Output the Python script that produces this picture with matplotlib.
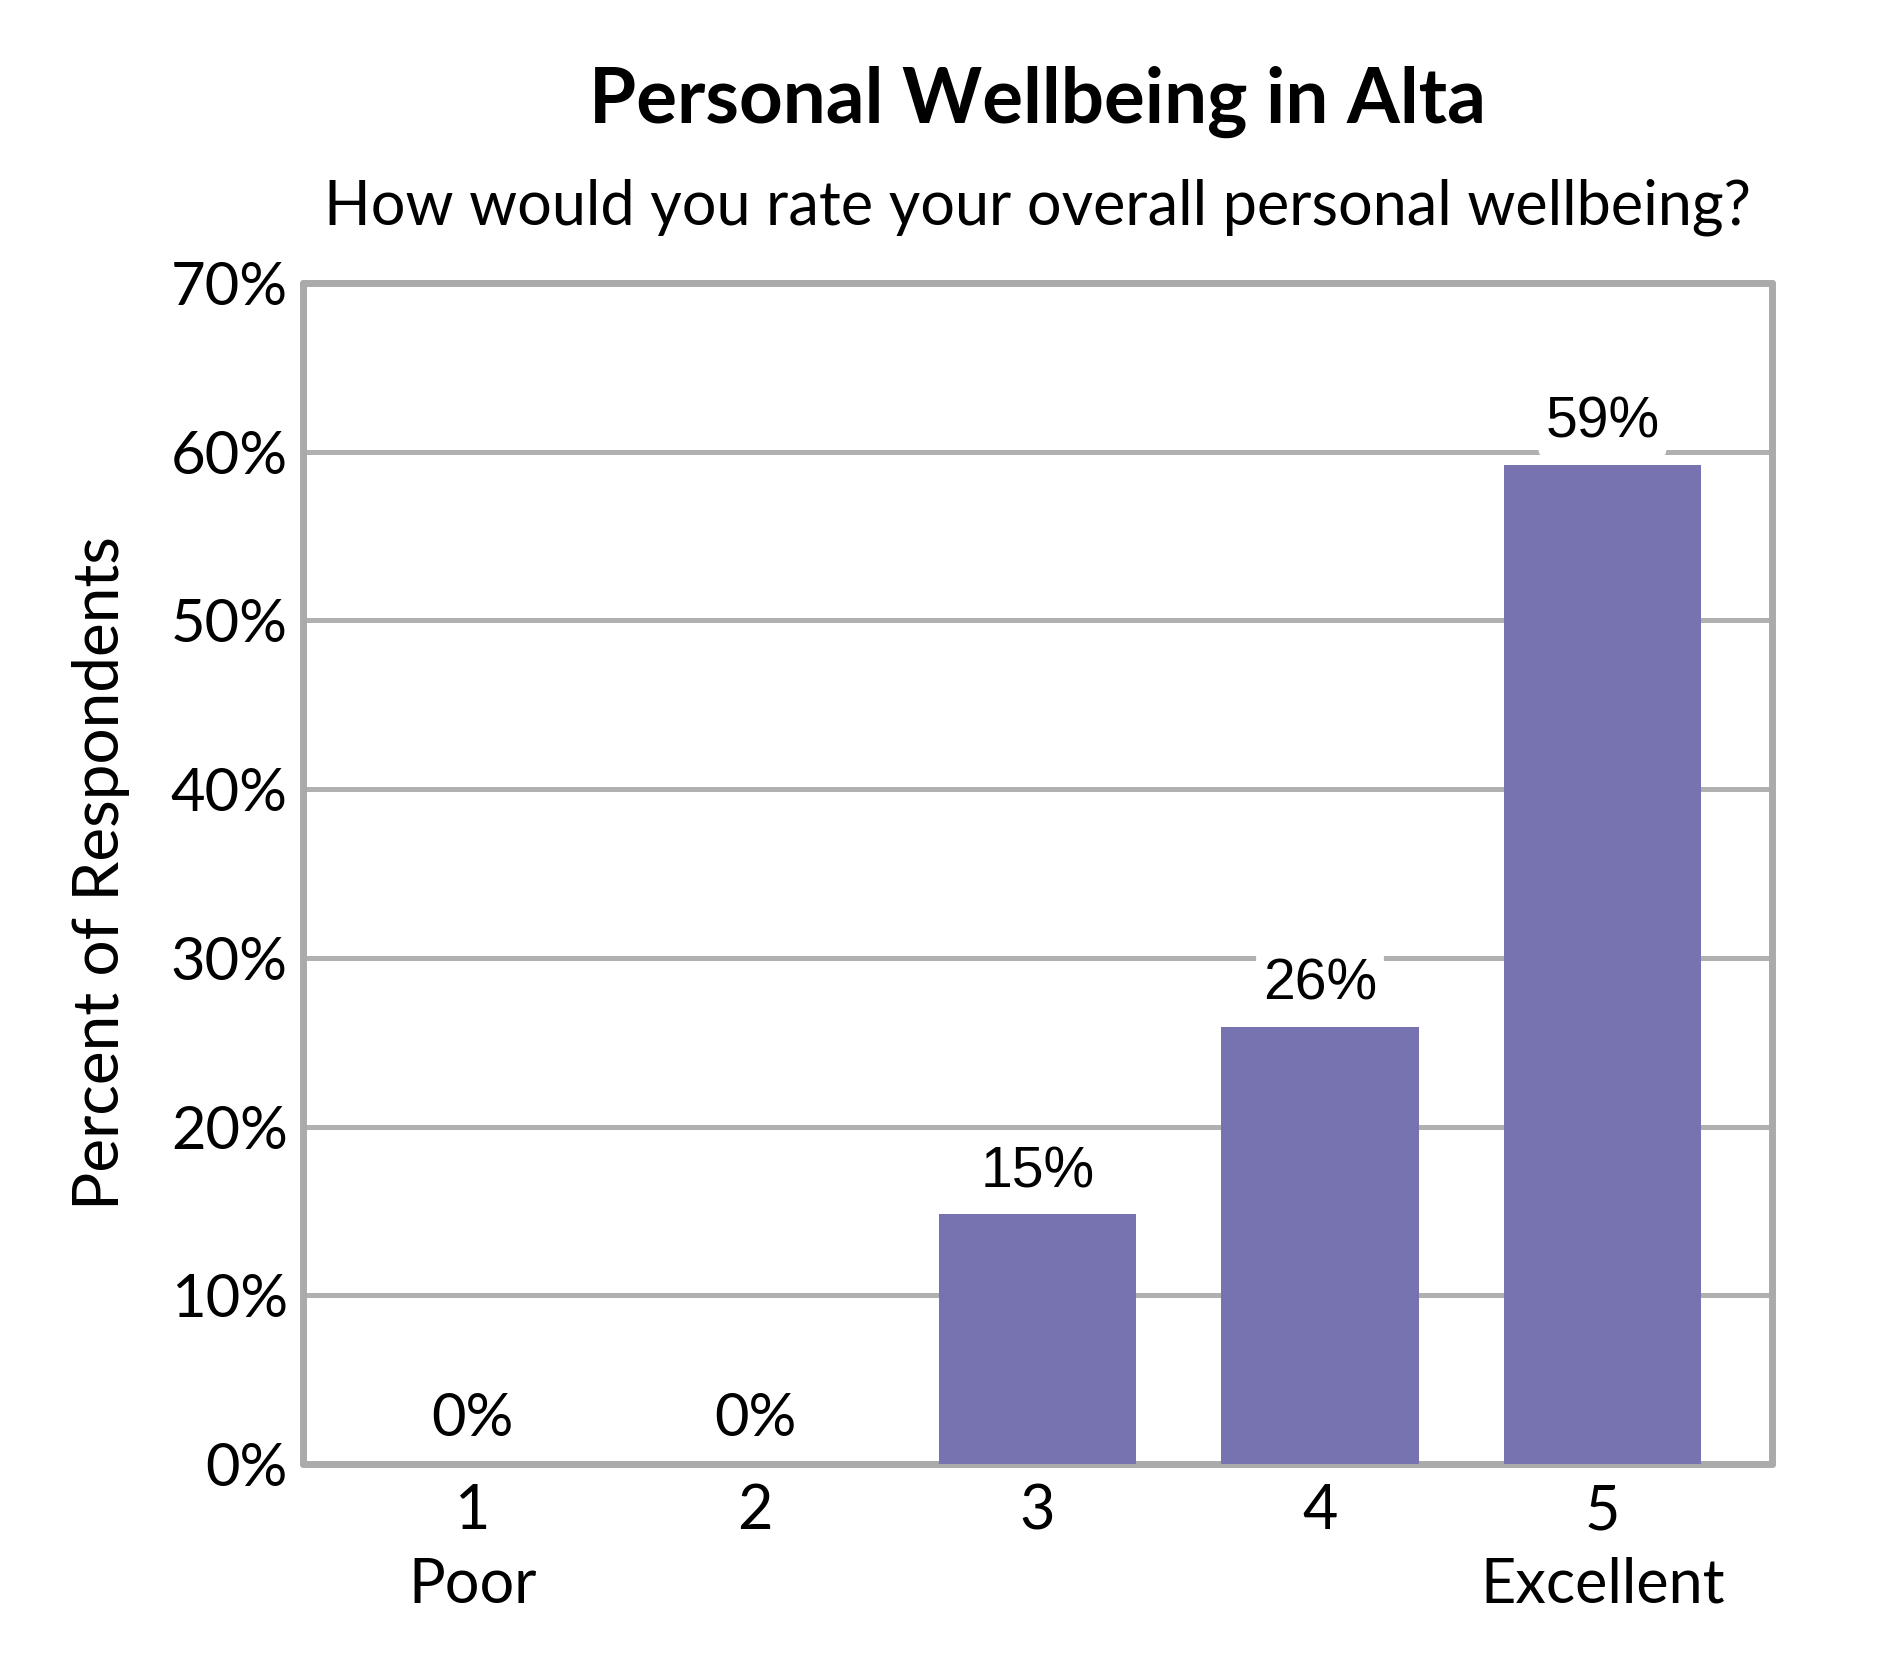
import matplotlib
matplotlib.use('Agg')
import matplotlib.pyplot as plt

# chart data
categories = ['1', '2', '3', '4', '5']
cat_labels = ['1\nPoor', '2', '3', '4', '5\nExcellent']
values = [0.0, 0.0, 14.8, 25.9, 59.2]
value_labels = ['0%', '0%', '15%', '26%', '59%']
y_ticks = [0, 10, 20, 30, 40, 50, 60, 70]

bar_color = '#7773B1'
grid_color = '#B0B0B0'
spine_color = '#AAAAAA'
main_font = ['Lato', 'DejaVu Sans']
label_font = ['Liberation Sans', 'DejaVu Sans']

fig = plt.figure(figsize=(18.9, 16.8), dpi=100)
ax = fig.add_axes([303/1890, 1 - 1464/1680, (1772-303)/1890, (1464-283)/1680])

x = list(range(1, len(categories) + 1))
ax.bar(x, values, width=0.7, color=bar_color, zorder=3)

ax.set_xlim(0.4, 5.6)
ax.set_ylim(0, 70)
ax.set_yticks(y_ticks)
ax.set_yticklabels([str(t) + '%' for t in y_ticks], family=main_font, fontsize=43)
ax.set_xticks(x)
ax.set_xticklabels(cat_labels, family=main_font, fontsize=44, linespacing=1.35)
ax.tick_params(axis='both', length=0)
ax.tick_params(axis='y', pad=11)
ax.tick_params(axis='x', pad=14)

ax.yaxis.grid(True, color=grid_color, linewidth=3.6, zorder=0)
ax.set_axisbelow(True)
for s in ax.spines.values():
    s.set_color(spine_color)
    s.set_linewidth(5)
    s.set_capstyle('round')
    s.set_joinstyle('round')

# data labels
for xi, v, lab in zip(x, values, value_labels):
    if v == 0:
        ax.annotate(lab, (xi, v), xytext=(0, 13), textcoords='offset points',
                    ha='center', va='bottom', fontsize=43, family=main_font, zorder=4)
    else:
        ax.annotate(lab, (xi, v), xytext=(0, 11), textcoords='offset points',
                    ha='center', va='bottom', fontsize=41, family=label_font, zorder=4,
                    bbox=dict(boxstyle='round,pad=0.12', fc='white', ec='none'))

fig.text(101/1890, 1 - 873/1680, 'Percent of Respondents', rotation=90,
         ha='center', va='center', family=main_font, fontsize=46)

cx = (303 + 1772) / 2 / 1890
fig.text(cx, 1 - 123/1680, 'Personal Wellbeing in Alta', ha='center', va='baseline',
         family=main_font, fontsize=55, fontweight='bold')
fig.text(cx, 1 - 225/1680, 'How would you rate your overall personal wellbeing?',
         ha='center', va='baseline', family=main_font, fontsize=44)

fig.savefig('out.png', dpi=100, facecolor='white')
